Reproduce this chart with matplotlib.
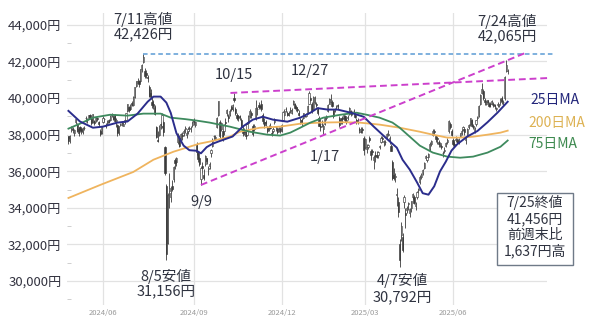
import matplotlib
matplotlib.use('Agg')
import matplotlib.pyplot as plt
import numpy as np
import pandas as pd
from matplotlib.patches import Rectangle

plt.rcParams['font.family'] = ['Noto Sans CJK JP', 'DejaVu Sans']

# ---------------- data ----------------
holidays = ['2024-04-29', '2024-05-03', '2024-05-06', '2024-07-15', '2024-08-12',
            '2024-09-16', '2024-09-23', '2024-10-14', '2024-11-04', '2024-12-31',
            '2025-01-01', '2025-01-02', '2025-01-03', '2025-01-13', '2025-02-11',
            '2025-02-24', '2025-03-20', '2025-04-29', '2025-05-05', '2025-05-06',
            '2025-07-21']

opens = [
    # 2024-04
    37900, 37800, 38300,
    # 2024-05
    38300, 38100, 38700, 38600, 38300, 38400, 38300, 38150, 38350, 38900, 38800, 38900, 39100, 38850, 38700, 38750, 38800, 38900, 38700, 38200, 38100,
    # 2024-06
    38700, 38850, 38500, 38650, 38800, 38800, 39100, 38950, 39100, 38750, 38550, 38150, 38550, 38650, 38500, 38700, 38800, 39300, 39500, 39400,
    # 2024-07
    39750, 39600, 40050, 40650, 40850, 40950, 40950, 41600, 41950, 41500, 41350, 41150, 40600, 40300, 39800, 39700, 39500, 38400, 37700, 38000, 38600, 38500,
    # 2024-08
    38700, 37300, 35200, 32100, 34900, 34600, 35200, 35600, 36600, 36500, 37600, 37800, 37700, 38000, 38100, 38300, 38000, 38200, 38350, 38300, 38550,
    # 2024-09
    38800, 38550, 37500, 37000, 36700, 35600, 36300, 35800, 36400, 36700, 36100, 36300, 37000, 37400, 37900, 37800, 38400, 39100, 38700,
    # 2024-10
    38300, 38200, 38200, 38700, 39200, 39000, 39100, 39500, 39400, 40000, 39400, 39100, 38900, 39000, 38800, 38300, 38200, 38150, 38000, 38650, 39000, 39200,
    # 2024-11
    38500, 38300, 38900, 39400, 39600, 39550, 39700, 39100, 38700, 38700, 38400, 38300, 38500, 38100, 38200, 38700, 38400, 38300, 38300, 38300,
    # 2024-12
    38300, 38800, 39100, 39400, 39200, 39100, 39300, 39200, 39700, 39700, 39500, 39400, 39200, 38700, 38800, 38900, 39100, 39000, 39200, 39700, 40000,
    # 2025-01
    39700, 39400, 39800, 39700, 39400, 38900, 38500, 38600, 38300, 38600, 38900, 39300, 39700, 39800, 39800, 39300, 39300, 39500, 39600,
    # 2025-02
    38900, 38700, 38900, 38900, 39000, 38700, 38900, 39200, 39300, 39200, 39300, 39100, 38800, 38700, 38300, 38200, 38300, 37800,
    # 2025-03
    37300, 37200, 37300, 37800, 37100, 37100, 36600, 36900, 36900, 36900, 37300, 37600, 37800, 37600, 37600, 37800, 38000, 37700, 37400, 36500,
    # 2025-04
    35800, 35700, 34700, 34300, 32000, 32500, 32400, 34300, 33700, 33900, 34200, 33700, 34000, 34600, 34600, 34100, 34600, 35000, 35400, 35700, 35900,
    # 2025-05
    36200, 36700, 36600, 36800, 37200, 37500, 38000, 38200, 37900, 37800, 37600, 37500, 37400, 37000, 37100, 37400, 37600, 38200, 38600, 38200,
    # 2025-06
    37700, 37500, 37700, 37700, 37600, 37900, 38100, 38300, 38300, 37700, 38000, 38400, 38600, 38800, 38500, 38200, 38600, 38900, 39000, 39700, 40300,
    # 2025-07
    40400, 39900, 39700, 39900, 39700, 39700, 39700, 39700, 39600, 39400, 39600, 39600, 39800, 40000, 39800, 40000, 41500, 41500,
]

highs = [
    37950, 38000, 38460,
    38400, 38300, 38870, 38650, 38400, 38450, 38350, 38400, 38450, 39000, 38900, 39100, 39150, 38900, 39150, 38800, 38950, 38950, 38750, 38300, 38500,
    39000, 38900, 38650, 38800, 38850, 39050, 39200, 39050, 39150, 38900, 38600, 38500, 38650, 38750, 38700, 38850, 39200, 39700, 39550, 39650,
    39850, 40100, 40600, 40950, 41100, 41000, 41600, 41850, 42426, 41650, 41550, 41250, 40700, 40500, 40050, 39900, 39600, 38500, 38200, 38550, 38700, 39200,
    38800, 37400, 35300, 34800, 35900, 35200, 35500, 36300, 36700, 36800, 38100, 38000, 38100, 38150, 38300, 38500, 38200, 38400, 38450, 38450, 38750,
    38900, 38750, 37600, 37100, 36800, 36300, 36500, 36100, 36900, 36750, 36300, 36500, 37200, 37800, 38000, 38000, 38950, 39830, 38800,
    38700, 38300, 38600, 38900, 39400, 39150, 39400, 39600, 39700, 40257, 39500, 39200, 39100, 39100, 38900, 38450, 38350, 38200, 38700, 39100, 39400, 39300,
    38600, 38600, 39900, 39500, 39800, 39700, 39900, 39200, 38900, 38800, 38500, 38550, 38650, 38250, 38400, 38900, 38500, 38400, 38400, 38400,
    38600, 39300, 39400, 39500, 39300, 39300, 39500, 39450, 39900, 39750, 39600, 39500, 39350, 38900, 38900, 39200, 39150, 39200, 39600, 40398, 40100,
    39800, 40100, 40100, 39800, 39500, 39000, 38600, 38800, 38600, 38950, 39100, 39700, 40000, 40200, 39900, 39400, 39450, 39600, 39700,
    39000, 38900, 39000, 39100, 39100, 38900, 39050, 39500, 39350, 39300, 39400, 39200, 38900, 38900, 38400, 38400, 38400, 37900,
    37800, 37500, 37500, 37900, 37200, 37200, 36900, 37100, 37100, 37100, 37450, 37900, 37900, 37700, 37700, 38100, 38250, 37900, 37500, 36600,
    36200, 35900, 35100, 34600, 32300, 33200, 32600, 34700, 34000, 34100, 34300, 34000, 34400, 34800, 34700, 34300, 34900, 35100, 35800, 35900, 36100,
    36500, 36900, 36800, 37000, 37600, 37700, 38300, 38300, 38000, 37900, 37700, 37600, 37500, 37100, 37300, 37600, 37800, 38800, 38700, 38300,
    37800, 37600, 37900, 37800, 37800, 38100, 38300, 38500, 38400, 37900, 38350, 38600, 38900, 38850, 38600, 38400, 38800, 39000, 39600, 40200, 40850,
    40500, 40000, 39900, 39900, 39800, 39800, 39900, 39800, 39700, 39500, 39800, 39700, 40000, 40100, 39900, 41200, 42065, 41600,
]

lows = [
    37500, 37550, 38150,
    38100, 37950, 38580, 38150, 37950, 38150, 38050, 38050, 38250, 38700, 38650, 38850, 38850, 38550, 38650, 38550, 38700, 38750, 38450, 37950, 38050,
    38650, 38700, 38350, 38550, 38650, 38750, 38950, 38800, 38700, 38400, 37950, 38000, 38450, 38500, 38450, 38600, 38750, 39250, 39250, 39350,
    39550, 39550, 40000, 40600, 40800, 40600, 40900, 41400, 41900, 41100, 41100, 40900, 40050, 39950, 39450, 39400, 39100, 37800, 37600, 37950, 38300, 38350,
    37900, 35800, 31156, 32000, 34000, 34300, 34900, 35400, 36100, 36300, 37500, 37300, 37600, 37700, 37900, 38100, 37800, 38050, 38200, 38150, 38400,
    38550, 38400, 36900, 36500, 36300, 35247, 35900, 35500, 36300, 36400, 35800, 36100, 36800, 37300, 37700, 37700, 38350, 39000, 37800,
    38200, 37650, 38000, 38400, 39000, 38700, 39000, 39300, 39300, 39800, 39100, 38800, 38750, 38800, 38300, 37950, 38000, 37750, 37950, 38600, 38900, 38900,
    37900, 38200, 38800, 39100, 39400, 39400, 39300, 38600, 38350, 38500, 38100, 38200, 38300, 37900, 38100, 38600, 38200, 38050, 38150, 38100,
    38150, 38750, 39000, 39250, 39000, 39000, 39200, 39150, 39600, 39400, 39300, 39250, 39000, 38600, 38500, 38850, 38950, 38950, 39150, 39650, 39800,
    39200, 39350, 39700, 39500, 39100, 38450, 38200, 38400, 38055, 38550, 38800, 39250, 39650, 39800, 39500, 38900, 39250, 39400, 39400,
    38400, 38600, 38600, 38850, 38700, 38600, 38800, 39100, 39000, 39100, 39100, 38900, 38600, 38600, 38100, 38100, 38100, 36900,
    37200, 37000, 37200, 37600, 36600, 36900, 36100, 36500, 36700, 36700, 37200, 37550, 37600, 37400, 37450, 37750, 37900, 37500, 37100, 35500,
    35500, 35400, 34100, 33500, 30792, 32200, 31600, 34000, 32900, 33700, 33900, 33500, 33800, 34500, 34200, 33900, 34500, 34800, 35300, 35600, 35800,
    36100, 36600, 36500, 36700, 37100, 37400, 37900, 38000, 37600, 37500, 37300, 37300, 37200, 36800, 37000, 37300, 37500, 38100, 38300, 37900,
    37400, 37300, 37600, 37500, 37500, 37850, 38000, 38200, 38000, 37500, 37950, 38300, 38500, 38400, 38300, 38100, 38500, 38800, 38950, 39600, 40200,
    39900, 39600, 39600, 39700, 39500, 39500, 39600, 39500, 39400, 39300, 39500, 39500, 39700, 39700, 39600, 39900, 41400, 41300,
]

closes = [
    37628, 37934, 38405,
    38274, 38236, 38835, 38202, 38073, 38229, 38179, 38356, 38385, 38920, 38787, 39069, 38946, 38617, 39103, 38646, 38900, 38855, 38556, 38054, 38487,
    38923, 38837, 38490, 38703, 38683, 39038, 39134, 38876, 38720, 38814, 38102, 38482, 38570, 38633, 38596, 38804, 39173, 39667, 39341, 39583,
    39631, 40074, 40580, 40913, 40912, 40780, 41580, 41831, 42224, 41190, 41275, 41097, 40126, 40063, 39599, 39594, 39154, 37869, 37667, 38468, 38526, 39101,
    38126, 35909, 31458, 34675, 35089, 34831, 35025, 36232, 36442, 36726, 38062, 37388, 38062, 37951, 38211, 38364, 38110, 38288, 38371, 38362, 38647,
    38700, 38686, 37047, 36657, 36391, 36159, 36159, 35619, 36833, 36581, 36203, 36380, 37155, 37723, 37940, 37870, 38925, 39829, 37919,
    38651, 37808, 38552, 38635, 39332, 38937, 39277, 39380, 39605, 39910, 39180, 38911, 38981, 38954, 38411, 38104, 38143, 37913, 38605, 39027, 39277, 39081,
    38053, 38474, 39480, 39381, 39500, 39533, 39376, 38721, 38535, 38642, 38220, 38414, 38352, 38026, 38283, 38780, 38442, 38134, 38349, 38208,
    38513, 39248, 39276, 39395, 39091, 39160, 39367, 39372, 39849, 39470, 39457, 39364, 39081, 38813, 38701, 39161, 39036, 39130, 39568, 40281, 39894,
    39307, 40083, 39981, 39605, 39190, 38474, 38444, 38572, 38451, 38902, 39027, 39646, 39958, 39931, 39565, 39016, 39414, 39513, 39572,
    38520, 38798, 38831, 39066, 38787, 38801, 38963, 39461, 39149, 39174, 39270, 38978, 38678, 38776, 38237, 38142, 38256, 37155,
    37785, 37331, 37418, 37704, 36887, 37028, 36793, 36819, 36790, 37053, 37396, 37845, 37751, 37677, 37608, 38027, 38027, 37799, 37120, 35617,
    35624, 35725, 34735, 33780, 31136, 33012, 31714, 34609, 33585, 33982, 34267, 33920, 34377, 34730, 34280, 34220, 34868, 35039, 35705, 35840, 36045,
    36452, 36831, 36780, 36928, 37503, 37644, 38183, 38128, 37755, 37753, 37498, 37529, 37299, 36985, 37160, 37532, 37724, 38722, 38432, 37965,
    37470, 37446, 37747, 37554, 37741, 38088, 38211, 38421, 38173, 37834, 38311, 38536, 38885, 38488, 38403, 38354, 38790, 38942, 39584, 40150, 40487,
    39986, 39762, 39785, 39810, 39587, 39688, 39821, 39646, 39570, 39459, 39678, 39663, 39901, 39819, 39774, 41171, 41826, 41456,
]

# moving averages (trading-day index, value)
ma25_day = [0, 8, 17, 24, 34, 41, 48, 55, 59, 64, 68, 71, 75, 80, 84, 89, 92, 96, 100, 105, 114, 121, 128, 135, 142,
            152, 161, 168, 173, 180, 187, 196, 205, 212, 221, 228, 232, 237, 242, 246, 250, 254, 258, 262, 266, 270,
            277, 284, 291, 298, 305]
ma25_val = [39300, 38720, 38380, 38440, 38660, 38720, 39150, 39800, 40080, 40080, 39750, 39200, 38080, 37400, 37150,
            37120, 36980, 37320, 37500, 37650, 37900, 38440, 38820, 38980, 38820, 38710, 38930, 39200, 39450, 39370,
            39370, 39200, 38980, 38440, 37780, 37290, 36630, 36090, 35400, 34800, 34720, 35180, 35990, 36520, 37130,
            37480, 37900, 38200, 38680, 39210, 39800]

ma75_day = [0, 8, 17, 29, 41, 52, 64, 71, 81, 89, 98, 112, 126, 138, 147, 154, 161, 168, 177, 189, 200, 207, 216,
            225, 230, 237, 244, 253, 263, 272, 281, 291, 300, 305]
ma75_val = [38330, 38600, 38930, 39090, 39040, 39150, 39150, 38930, 38850, 38770, 38660, 38440, 38160, 38000, 37950,
            38110, 38380, 38660, 38930, 39090, 39200, 39090, 38930, 38660, 38380, 37890, 37400, 37020, 36800, 36740,
            36800, 37020, 37340, 37680]

ma200_day = [0, 22, 45, 59, 73, 84, 91, 98, 112, 119, 133, 147, 161, 175, 189, 202, 216, 230, 244, 253, 263, 272,
             281, 291, 300, 305]
ma200_val = [34540, 35250, 35960, 36630, 37070, 37340, 37510, 37620, 37890, 38160, 38380, 38440, 38600, 38660, 38680,
             38660, 38550, 38380, 38160, 38000, 37840, 37840, 37890, 38000, 38110, 38220]

# trend / reference lines (trading-day index, price)
trend_low = ([92, 319], [35250, 42520])
trend_high = ([112.5, 334.4], [40280, 41100])
high_line = ([52, 338], [42426, 42426])

tick_months = ['2024-06', '2024-09', '2024-12', '2025-03', '2025-06']
tick_labels = ['2024/06', '2024/09', '2024/12', '2025/03', '2025/06']
y_ticks = list(range(30000, 44001, 2000))

# ---------------- figure ----------------
dates = pd.bdate_range('2024-04-25', '2025-07-25')
dates = dates[~dates.isin(pd.to_datetime(holidays))]
n = len(closes)
x = np.arange(n)
o = np.array(opens, float)
h = np.array(highs, float)
l = np.array(lows, float)
c = np.array(closes, float)

W, H = 600, 319
fig = plt.figure(figsize=(W / 100, H / 100), dpi=100)
ax = fig.add_axes([67 / W, 1 - 305 / H, 480 / W, 292 / H])
ax.set_xlim(-1, 332.3)
ax.set_ylim(28690, 44650)

for s in ax.spines.values():
    s.set_visible(False)
ax.grid(True, color='#e2e2e2', lw=0.9)
ax.set_axisbelow(True)

candle_col = '#3a3a3a'
ax.vlines(x, l, h, color=candle_col, lw=0.6, zorder=2)
up = c >= o
ax.bar(x[up], (c - o)[up], bottom=o[up], width=0.8, color='white', edgecolor=candle_col, lw=0.45, zorder=3)
ax.bar(x[~up], (o - c)[~up], bottom=c[~up], width=0.8, color=candle_col, edgecolor=candle_col, lw=0.45, zorder=3)

ax.plot(ma200_day, ma200_val, color='#efb45e', lw=1.3, zorder=4)
ax.plot(ma75_day, ma75_val, color='#3e8a5e', lw=1.3, zorder=4)
ax.plot(ma25_day, ma25_val, color='#2b2d8c', lw=1.4, zorder=5)

ax.plot(*high_line, color='#5b9bd5', lw=1.1, ls=(0, (3, 2)), clip_on=False, zorder=6)
ax.plot(*trend_low, color='#cc3fcc', lw=1.4, ls=(0, (3.5, 2)), clip_on=False, zorder=6)
ax.plot(*trend_high, color='#cc3fcc', lw=1.4, ls=(0, (3.5, 2)), clip_on=False, zorder=6)

# ticks
ds = pd.Series(dates.strftime('%Y-%m'))
tick_pos = [int(ds[ds == m].index[0]) for m in tick_months]
ax.set_xticks(tick_pos)
ax.set_xticklabels(tick_labels)
ax.set_yticks(y_ticks)
ax.set_yticklabels([f'{v:,}円' for v in y_ticks])
ax.set_yticks(list(range(29000, 44000, 2000)), minor=True)
ax.tick_params(axis='y', which='major', length=0, pad=4, labelsize=9.5, labelcolor='#333340')
ax.tick_params(axis='y', which='minor', length=3, direction='in', color='#c8c8c8')
ax.tick_params(axis='x', which='major', length=0, pad=3, labelsize=5.5, labelcolor='#9a9a9a')

txt = '#2f3340'

def ftext(px, py, s, **kw):
    kw.setdefault('ha', 'center')
    kw.setdefault('va', 'center')
    kw.setdefault('color', txt)
    kw.setdefault('fontsize', 10.5)
    fig.text(px / W, 1 - py / H, s, **kw)

ftext(143, 19, '7/11高値')
ftext(143, 34, '42,426円')
ftext(507, 21, '7/24高値')
ftext(507, 36, '42,065円')
ftext(234, 75, '10/15')
ftext(310, 71, '12/27')
ftext(325, 157, '1/17')
ftext(201, 202, '9/9')
ftext(166, 276, '8/5安値')
ftext(166, 291, '31,156円')
ftext(402, 280, '4/7安値')
ftext(402, 297, '30,792円')

ftext(530, 100, '25日MA', ha='left', color='#23267a', fontsize=10)
ftext(528, 123, '200日MA', ha='left', color='#ddb253', fontsize=10)
ftext(528, 144, '75日MA', ha='left', color='#3e8a50', fontsize=10)

fig.patches.append(Rectangle((497 / W, 1 - 265 / H), 76 / W, 72 / H, transform=fig.transFigure,
                             facecolor='white', edgecolor='#6f7a88', lw=1.0, zorder=10))
for yy, s in zip([202.5, 219, 235, 251], ['7/25終値', '41,456円', '前週末比', '1,637円高']):
    ftext(535, yy, s, fontsize=10, zorder=11)

fig.savefig('out.png', dpi=100)
